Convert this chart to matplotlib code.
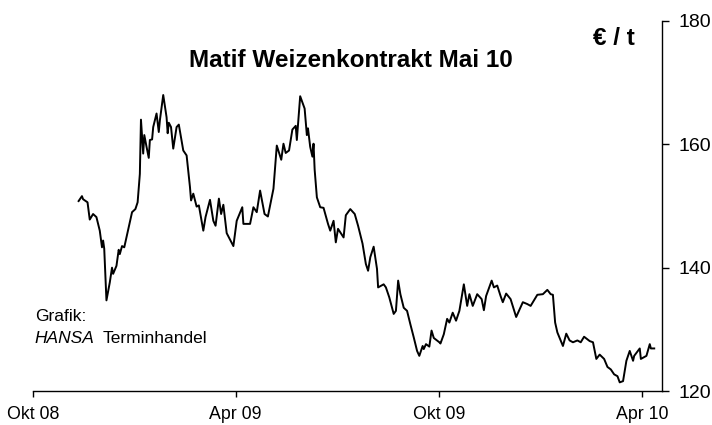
import numpy as np
import pandas as pd
import matplotlib
matplotlib.use("Agg")
import matplotlib.pyplot as plt
import matplotlib.dates as mdates

plt.rcParams["font.family"] = ["Liberation Sans", "DejaVu Sans"]

# Matif wheat contract May 10, EUR per tonne
dates = [
    "2008-11-11", "2008-11-14", "2008-11-15", "2008-11-19", "2008-11-21", "2008-11-24", "2008-11-27", "2008-11-30",
    "2008-12-02", "2008-12-03", "2008-12-04", "2008-12-06", "2008-12-09", "2008-12-11", "2008-12-12", "2008-12-15",
    "2008-12-17", "2008-12-18", "2008-12-20", "2008-12-22", "2008-12-29", "2009-01-01", "2009-01-03", "2009-01-05",
    "2009-01-06", "2009-01-08", "2009-01-09", "2009-01-11", "2009-01-13", "2009-01-14", "2009-01-16", "2009-01-17",
    "2009-01-20", "2009-01-22", "2009-01-23", "2009-01-26", "2009-01-29", "2009-01-30", "2009-01-31", "2009-02-02",
    "2009-02-04", "2009-02-07", "2009-02-09", "2009-02-13", "2009-02-16", "2009-02-19", "2009-02-20", "2009-02-22",
    "2009-02-25", "2009-02-27", "2009-03-03", "2009-03-05", "2009-03-09", "2009-03-12", "2009-03-14", "2009-03-17",
    "2009-03-19", "2009-03-21", "2009-03-24", "2009-03-30", "2009-04-02", "2009-04-07", "2009-04-08", "2009-04-14",
    "2009-04-17", "2009-04-20", "2009-04-23", "2009-04-27", "2009-04-30", "2009-05-05", "2009-05-08", "2009-05-12",
    "2009-05-14", "2009-05-16", "2009-05-19", "2009-05-22", "2009-05-25", "2009-05-26", "2009-05-29", "2009-06-02",
    "2009-06-04", "2009-06-05", "2009-06-07", "2009-06-09", "2009-06-10", "2009-06-11", "2009-06-13", "2009-06-16",
    "2009-06-19", "2009-06-23", "2009-06-25", "2009-06-28", "2009-06-30", "2009-07-02", "2009-07-07", "2009-07-09",
    "2009-07-13", "2009-07-17", "2009-07-20", "2009-07-24", "2009-07-27", "2009-07-29", "2009-07-31", "2009-08-03",
    "2009-08-06", "2009-08-07", "2009-08-12", "2009-08-14", "2009-08-17", "2009-08-21", "2009-08-23", "2009-08-25",
    "2009-08-27", "2009-08-30", "2009-09-02", "2009-09-05", "2009-09-08", "2009-09-11", "2009-09-13", "2009-09-16",
    "2009-09-17", "2009-09-19", "2009-09-22", "2009-09-24", "2009-09-26", "2009-10-01", "2009-10-02", "2009-10-05",
    "2009-10-08", "2009-10-10", "2009-10-13", "2009-10-16", "2009-10-19", "2009-10-23", "2009-10-26", "2009-10-28",
    "2009-10-31", "2009-11-04", "2009-11-08", "2009-11-10", "2009-11-12", "2009-11-17", "2009-11-19", "2009-11-22",
    "2009-11-25", "2009-11-27", "2009-11-30", "2009-12-04", "2009-12-09", "2009-12-15", "2009-12-19", "2009-12-22",
    "2009-12-28", "2010-01-02", "2010-01-06", "2010-01-09", "2010-01-11", "2010-01-13", "2010-01-15", "2010-01-20",
    "2010-01-23", "2010-01-26", "2010-01-29", "2010-02-02", "2010-02-05", "2010-02-08", "2010-02-13", "2010-02-16",
    "2010-02-19", "2010-02-22", "2010-02-26", "2010-03-01", "2010-03-04", "2010-03-07", "2010-03-10", "2010-03-12",
    "2010-03-15", "2010-03-18", "2010-03-21", "2010-03-24", "2010-03-25", "2010-03-30", "2010-03-31", "2010-04-05",
    "2010-04-08", "2010-04-09", "2010-04-12",
]
prices = [
    150.8, 151.6, 151.1, 150.6, 147.8, 148.7, 148.2, 146.0,
    143.3, 144.4, 143.1, 134.7, 137.6, 140.0, 139.0, 140.3,
    142.9, 142.2, 143.5, 143.3, 149.0, 149.5, 150.6, 155.2,
    164.0, 158.5, 161.5, 159.6, 157.8, 160.7, 160.8, 162.8,
    165.0, 162.0, 163.9, 168.0, 164.4, 161.8, 163.5, 162.8,
    159.3, 162.8, 163.2, 159.0, 158.2, 153.1, 150.9, 152.0,
    149.9, 150.1, 146.0, 148.2, 151.0, 147.6, 146.8, 151.2,
    148.7, 150.2, 145.6, 143.5, 147.6, 149.8, 147.1, 147.1,
    149.8, 149.0, 152.5, 148.7, 148.3, 152.8, 159.8, 157.5,
    160.1, 158.6, 159.0, 162.4, 163.0, 160.7, 167.8, 165.8,
    161.5, 162.6, 159.6, 158.0, 160.1, 155.9, 151.4, 149.8,
    149.7, 147.1, 146.0, 147.6, 144.1, 146.3, 144.9, 148.5,
    149.5, 148.7, 146.8, 143.9, 140.6, 139.5, 141.7, 143.4,
    139.8, 136.8, 137.3, 136.8, 135.2, 132.5, 133.0, 137.9,
    135.7, 133.5, 133.0, 130.8, 128.7, 126.5, 125.7, 127.3,
    126.8, 127.6, 127.2, 129.8, 128.6, 127.9, 127.7, 129.2,
    131.7, 131.1, 132.7, 131.4, 133.0, 137.3, 133.8, 135.7,
    133.8, 135.7, 134.9, 133.1, 135.4, 137.9, 136.8, 137.1,
    135.4, 134.4, 135.8, 134.9, 132.0, 134.4, 134.1, 133.8,
    135.6, 135.7, 136.4, 135.7, 135.6, 131.1, 129.5, 127.3,
    129.3, 128.2, 127.9, 128.2, 127.9, 128.8, 128.1, 127.9,
    125.2, 125.9, 125.2, 123.9, 123.5, 122.7, 122.4, 121.4,
    121.6, 124.9, 126.5, 124.9, 125.7, 126.9, 125.2, 125.7,
    127.6, 126.9, 126.9,
]

tickDates = ["2008-10-01", "2009-04-01", "2009-10-01", "2010-04-01"]
tickLabels = ["Okt 08", "Apr 09", "Okt 09", "Apr 10"]
yTicks = [120, 140, 160, 180]

series = pd.Series(prices, index=pd.to_datetime(dates))

fig = plt.figure(figsize=(7.12, 4.25), dpi=100)
ax = fig.add_axes([0.0463, 0.08, 0.8835, 0.8706])

ax.plot(series.index, series.values, color="black", linewidth=1.4)

ax.set_xlim(pd.Timestamp("2008-10-01"), pd.Timestamp("2010-04-19"))
ax.set_ylim(120, 180)

ax.set_xticks(pd.to_datetime(tickDates))
ax.set_xticklabels(tickLabels, fontsize=12.8)
ax.set_yticks(yTicks)
ax.set_yticklabels([str(v) for v in yTicks], fontsize=14)

ax.yaxis.tick_right()
ax.spines["left"].set_visible(False)
ax.spines["top"].set_visible(False)
for s in ["right", "bottom"]:
    ax.spines[s].set_linewidth(1.0)
ax.tick_params(axis="y", direction="out", length=5, width=1.0, pad=7)
ax.tick_params(axis="x", direction="out", length=4, width=1.0, pad=7)

fig.text(0.493, 0.858, "Matif Weizenkontrakt Mai 10", fontsize=17.5, fontweight="bold",
         ha="center", va="center")
fig.text(0.862, 0.91, "€ / t", fontsize=17.5, fontweight="bold", ha="center", va="center")
fig.text(0.049, 0.256, "Grafik:", fontsize=12.5, ha="left", va="center")
fig.text(0.049, 0.203, "HANSA", fontsize=12.5, style="italic", ha="left", va="center")
fig.text(0.1445, 0.203, "Terminhandel", fontsize=12.5, ha="left", va="center")

fig.savefig("out.png", dpi=100)
